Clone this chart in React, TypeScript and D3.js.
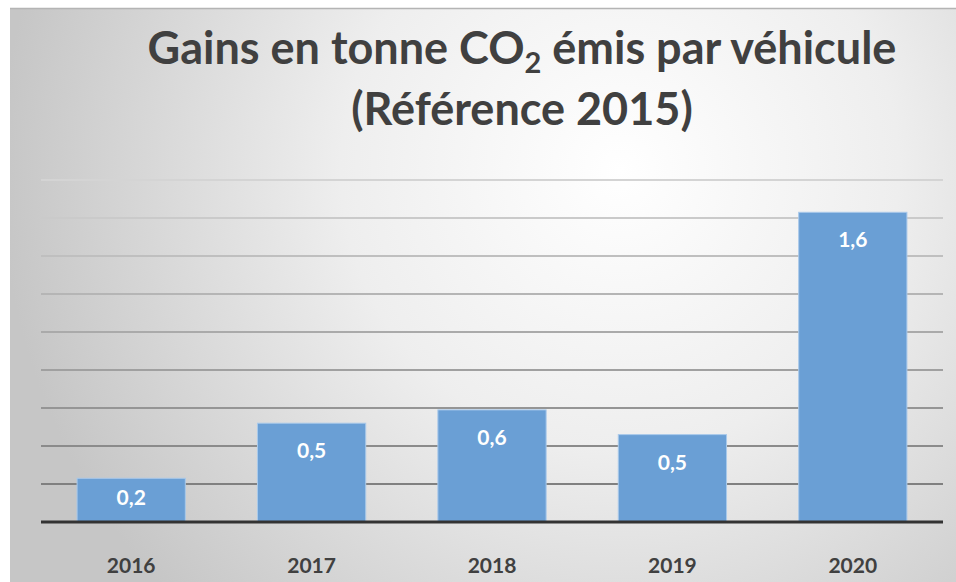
import React from "react";
import * as d3 from "d3";

// values (labels show one decimal)
const years = ["2016", "2017", "2018", "2019", "2020"];
const gains = [0.23, 0.52, 0.59, 0.46, 1.63];
const gridTicks = [0, 0.2, 0.4, 0.6, 0.8, 1.0, 1.2, 1.4, 1.6, 1.8];

const W = 956;
const H = 582;
const margin = { top: 180, right: 13, bottom: 60, left: 41 };

const fmt = (v: number) => v.toFixed(1).replace(".", ",");

export default function App() {
  const x = d3
    .scaleBand<string>()
    .domain(years)
    .range([margin.left, W - margin.right])
    .paddingInner(0.4)
    .paddingOuter(0.2);

  const y = d3
    .scaleLinear()
    .domain([0, 1.8])
    .range([H - margin.bottom, margin.top]);

  // gridlines get lighter toward the top
  const gridColor = d3.scaleLinear<string>().domain([1.8, 0.2]).range(["#d4d4d4", "#808080"]);

  const base = y(0);
  const font = "Lato, 'Open Sans', sans-serif";

  return (
    <svg
      width={W}
      height={H}
      style={{ position: "absolute", left: 0, top: 0, background: "#fff" }}
    >
      <defs>
        <radialGradient id="bg" gradientUnits="userSpaceOnUse" cx={620} cy={170} r={620}>
          <stop offset="0" stopColor="#ffffff" />
          <stop offset="0.45" stopColor="#eeeeee" />
          <stop offset="1" stopColor="#c6c6c6" />
        </radialGradient>
      </defs>
      <rect x={10} y={8} width={W - 10} height={H - 8} fill="url(#bg)" />
      <line x1={10} x2={W} y1={8.5} y2={8.5} stroke="#b4b4b4" strokeWidth={1.5} />

      <text
        x={522}
        y={64}
        textAnchor="middle"
        fontFamily={font}
        fontWeight="bold"
        fontSize={45}
        fill="#404040"
      >
        Gains en tonne CO
        <tspan fontSize={29} dy={9}>2</tspan>
        <tspan dy={-9}> émis par véhicule</tspan>
      </text>
      <text
        x={522}
        y={125}
        textAnchor="middle"
        fontFamily={font}
        fontWeight="bold"
        fontSize={45}
        fill="#404040"
      >
        (Référence 2015)
      </text>

      {gridTicks.slice(1).map((t) => (
        <line
          key={t}
          x1={margin.left}
          x2={W - margin.right}
          y1={y(t)}
          y2={y(t)}
          stroke={gridColor(t)}
          strokeWidth={2}
        />
      ))}

      {years.map((yr, i) => {
        const top = y(gains[i]);
        const labelY = Math.min(top + 35, base - 17);
        return (
          <g key={yr}>
            <rect
              x={x(yr)}
              y={top}
              width={x.bandwidth()}
              height={base - top}
              fill="#6a9fd5"
              stroke="#a9c9ea"
              strokeWidth={1}
            />
            <text
              x={x(yr)! + x.bandwidth() / 2}
              y={labelY}
              textAnchor="middle"
              fontFamily={font}
              fontWeight="bold"
              fontSize={21}
              fill="#ffffff"
            >
              {fmt(gains[i])}
            </text>
            <text
              x={x(yr)! + x.bandwidth() / 2}
              y={573}
              textAnchor="middle"
              fontFamily={font}
              fontWeight="bold"
              fontSize={21}
              fill="#404040"
            >
              {yr}
            </text>
          </g>
        );
      })}

      <line
        x1={margin.left}
        x2={W - margin.right}
        y1={base}
        y2={base}
        stroke="#333333"
        strokeWidth={3}
      />
    </svg>
  );
}
